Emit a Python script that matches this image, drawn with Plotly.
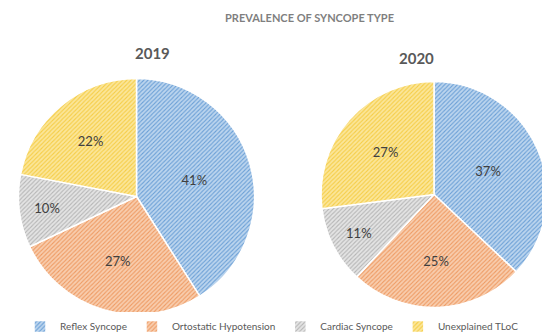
import plotly.graph_objects as go

categories = ["Reflex Syncope", "Ortostatic Hypotension", "Cardiac Syncope", "Unexplained TLoC"]
values_2019 = [41, 27, 10, 22]
values_2020 = [37, 25, 11, 27]
years = ["2019", "2020"]

fg_colors = ["#6A9FD6", "#EE9A62", "#B5B5B5", "#F5CD45"]
bg_colors = ["#BCD5EE", "#F8CDAE", "#E4E4E4", "#FBE69A"]

FONT = "Lato"

fig = go.Figure()

common = dict(
    labels=categories,
    sort=False,
    direction="clockwise",
    rotation=0,
    texttemplate="%{value}%",
    textposition="inside",
    insidetextorientation="horizontal",
    textfont=dict(family=FONT, size=13, color="#404040"),
    hoverinfo="label+percent",
    marker=dict(
        colors=bg_colors,
        line=dict(color="white", width=1.5),
        pattern=dict(shape="/", fgcolor=fg_colors, bgcolor=bg_colors, size=3, solidity=0.35),
    ),
)

fig.add_trace(go.Pie(values=values_2019, name=years[0],
                     domain=dict(x=[0.0191, 0.4482], y=[0.0796, 0.7883]), **common))
fig.add_trace(go.Pie(values=values_2020, name=years[1],
                     domain=dict(x=[0.5691, 0.98], y=[0.1006, 0.7793]), **common))

fig.update_layout(
    width=550, height=333,
    margin=dict(l=0, r=0, t=0, b=0, autoexpand=False),
    paper_bgcolor="white",
    plot_bgcolor="white",
    showlegend=True,
    legend=dict(
        orientation="h",
        x=0.48, xanchor="center",
        y=0.0, yanchor="bottom",
        font=dict(family=FONT, size=10, color="#595959"),
        itemwidth=30,
        tracegroupgap=0,
    ),
    annotations=[
        dict(text="<b>PREVALENCE OF SYNCOPE TYPE</b>", x=301/550, y=1-10/333,
             xref="paper", yref="paper", showarrow=False, yanchor="middle",
             font=dict(family=FONT, size=11, color="#7F7F7F")),
        dict(text="<b>" + years[0] + "</b>", x=125/550, y=1-45/333,
             xref="paper", yref="paper", showarrow=False, yanchor="middle",
             font=dict(family=FONT, size=15, color="#595959")),
        dict(text="<b>" + years[1] + "</b>", x=428/550, y=1-50/333,
             xref="paper", yref="paper", showarrow=False, yanchor="middle",
             font=dict(family=FONT, size=15, color="#595959")),
    ],
)

fig.write_html("out.html")
